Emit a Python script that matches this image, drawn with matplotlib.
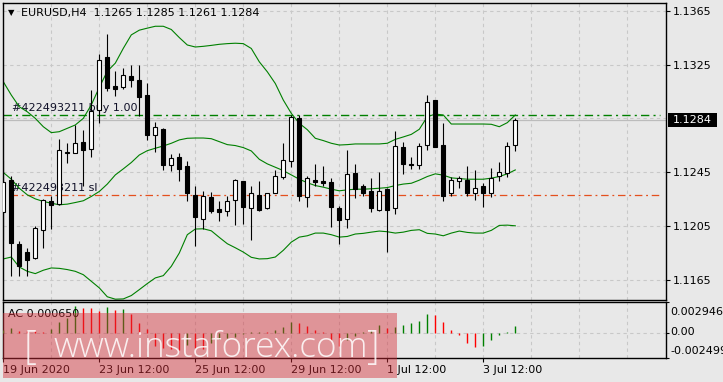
import matplotlib
matplotlib.use("Agg")
import matplotlib.pyplot as plt
import matplotlib.transforms as mtransforms
from matplotlib.patches import Rectangle
import numpy as np

# EURUSD H4 candles
opens = [1.12151, 1.12393, 1.11919, 1.11857, 1.11813, 1.12018, 1.12238, 1.12213, 1.12593, 1.12596,
         1.12672, 1.12620, 1.12912, 1.13307, 1.13090, 1.13085, 1.13164, 1.13134, 1.13023, 1.12724,
         1.12771, 1.12507, 1.12564, 1.12497, 1.12282, 1.12102, 1.12267, 1.12178, 1.12161, 1.12243,
         1.12383, 1.12183, 1.12282, 1.12183, 1.12299, 1.12413, 1.12531, 1.12852, 1.12265, 1.12393,
         1.12386, 1.12376, 1.12186, 1.12102, 1.12443, 1.12349, 1.12312, 1.12171, 1.12326, 1.12183,
         1.12638, 1.12512, 1.12502, 1.12650, 1.12983, 1.12650, 1.12294, 1.12383, 1.12391, 1.12299,
         1.12349, 1.12299, 1.12420, 1.12443, 1.12650]
highs = [1.12541, 1.12425, 1.11936, 1.11889, 1.12047, 1.12252, 1.12270, 1.12694, 1.12670, 1.12798,
         1.12764, 1.13060, 1.13331, 1.13480, 1.13200, 1.13225, 1.13250, 1.13250, 1.13109, 1.12820,
         1.12776, 1.12583, 1.12596, 1.12534, 1.12351, 1.12309, 1.12304, 1.12238, 1.12270, 1.12396,
         1.12388, 1.12349, 1.12386, 1.12299, 1.12467, 1.12665, 1.12875, 1.12875, 1.12423, 1.12512,
         1.12497, 1.12406, 1.12196, 1.12615, 1.12512, 1.12364, 1.12408, 1.12448, 1.12331, 1.12756,
         1.12675, 1.12566, 1.12665, 1.13023, 1.12988, 1.12813, 1.12413, 1.12423, 1.12497, 1.12467,
         1.12373, 1.12480, 1.12524, 1.12675, 1.12850]
lows = [1.11949, 1.11682, 1.11682, 1.11682, 1.11808, 1.11885, 1.12030, 1.12208, 1.12522, 1.12591,
        1.12344, 1.12566, 1.12818, 1.13055, 1.13018, 1.13067, 1.13085, 1.12870, 1.12689, 1.12598,
        1.12470, 1.12462, 1.12388, 1.12238, 1.11899, 1.12030, 1.12146, 1.12085, 1.12127, 1.12055,
        1.12062, 1.11949, 1.12159, 1.12176, 1.12294, 1.12403, 1.12492, 1.12238, 1.12188, 1.12349,
        1.12344, 1.12040, 1.11914, 1.12033, 1.12262, 1.12270, 1.12151, 1.12159, 1.11857, 1.12141,
        1.12435, 1.12472, 1.12477, 1.12613, 1.12635, 1.12233, 1.12270, 1.12331, 1.12277, 1.12240,
        1.12188, 1.12265, 1.12388, 1.12413, 1.12610]
closes = [1.12381, 1.11924, 1.11751, 1.11801, 1.12035, 1.12245, 1.12208, 1.12615, 1.12598, 1.12665,
          1.12615, 1.12904, 1.13287, 1.13072, 1.13067, 1.13171, 1.13134, 1.13010, 1.12727, 1.12783,
          1.12500, 1.12556, 1.12477, 1.12292, 1.12114, 1.12275, 1.12159, 1.12151, 1.12235, 1.12391,
          1.12188, 1.12294, 1.12171, 1.12294, 1.12420, 1.12539, 1.12857, 1.12270, 1.12406, 1.12381,
          1.12373, 1.12188, 1.12092, 1.12435, 1.12326, 1.12299, 1.12181, 1.12309, 1.12173, 1.12643,
          1.12509, 1.12500, 1.12643, 1.12971, 1.12640, 1.12277, 1.12391, 1.12408, 1.12292, 1.12331,
          1.12292, 1.12410, 1.12450, 1.12643, 1.12840]

# bollinger bands as drawn
bb_upper = [1.13122, 1.13023, 1.12936, 1.12899, 1.12850, 1.12788, 1.12744, 1.12751, 1.12776, 1.12801,
            1.12850, 1.12950, 1.13080, 1.13200, 1.13260, 1.13370, 1.13470, 1.13505, 1.13520, 1.13534,
            1.13534, 1.13510, 1.13450, 1.13395, 1.13380, 1.13385, 1.13392, 1.13400, 1.13405, 1.13408,
            1.13405, 1.13369, 1.13270, 1.13196, 1.13109, 1.12986, 1.12887, 1.12813, 1.12766, 1.12702,
            1.12685, 1.12665, 1.12652, 1.12655, 1.12660, 1.12660, 1.12660, 1.12660, 1.12665, 1.12694,
            1.12712, 1.12731, 1.12769, 1.12862, 1.12882, 1.12875, 1.12808, 1.12808, 1.12808, 1.12808,
            1.12808, 1.12806, 1.12788, 1.12818, 1.12875]
bb_mid = [1.12448, 1.12398, 1.12331, 1.12282, 1.12252, 1.12233, 1.12220, 1.12208, 1.12213, 1.12225,
          1.12238, 1.12270, 1.12307, 1.12362, 1.12430, 1.12475, 1.12522, 1.12578, 1.12610, 1.12628,
          1.12645, 1.12665, 1.12690, 1.12702, 1.12704, 1.12704, 1.12699, 1.12677, 1.12655, 1.12648,
          1.12633, 1.12608, 1.12546, 1.12512, 1.12487, 1.12462, 1.12430, 1.12398, 1.12372, 1.12351,
          1.12339, 1.12324, 1.12312, 1.12319, 1.12324, 1.12324, 1.12327, 1.12331, 1.12336, 1.12351,
          1.12362, 1.12368, 1.12391, 1.12418, 1.12438, 1.12428, 1.12408, 1.12403, 1.12398, 1.12398,
          1.12398, 1.12406, 1.12418, 1.12438, 1.12467]
bb_lower = [1.11806, 1.11820, 1.11746, 1.11714, 1.11697, 1.11722, 1.11739, 1.11736, 1.11727, 1.11714,
            1.11689, 1.11640, 1.11591, 1.11525, 1.11507, 1.11509, 1.11534, 1.11578, 1.11623, 1.11665,
            1.11682, 1.11751, 1.11850, 1.11986, 1.12028, 1.12030, 1.12015, 1.11966, 1.11919, 1.11889,
            1.11857, 1.11818, 1.11806, 1.11808, 1.11820, 1.11870, 1.11931, 1.11968, 1.11978, 1.11998,
            1.11998, 1.11986, 1.11968, 1.11973, 1.11991, 1.11996, 1.12005, 1.12013, 1.12008, 1.11998,
            1.12005, 1.12018, 1.12023, 1.11996, 1.11991, 1.11978, 1.11998, 1.12013, 1.12003, 1.11998,
            1.11998, 1.12018, 1.12055, 1.12057, 1.12052]

# accelerator oscillator
ac_vals = [0.00026, 0.00049, 0.00019, 0.00014, 0.00011, 0.00008, 0.00035, 0.00104, 0.00146, 0.00259,
           0.00243, 0.00237, 0.00211, 0.00253, 0.00220, 0.00233, 0.00185, 0.00091, 0.00039, -0.00130,
           -0.00146, -0.00156, -0.00170, -0.00120, -0.00150, -0.00160, -0.00100, -0.00060, -0.00050, -0.00040,
           -0.00010, 0.00005, 0.00010, 0.00008, 0.00023, 0.00052, 0.00104, 0.00091, 0.00065, 0.00023,
           0.00006, -0.00071, -0.00130, -0.00071, -0.00032, 0.00010, 0.00026, 0.00071, 0.00045, 0.00055,
           0.00071, 0.00091, 0.00110, 0.00178, 0.00168, 0.00104, 0.00023, -0.00023, -0.00104, -0.00139,
           -0.00130, -0.00071, -0.00023, 0.00003, 0.00065]

grid_prices = [1.1165, 1.1205, 1.1245, 1.1285, 1.1325, 1.1365]
price_ticks = [1.1165, 1.1205, 1.1245, 1.1325, 1.1365]
time_ticks = [0, 12, 24, 36, 48, 60]
time_labels = ["19 Jun 2020", "23 Jun 12:00", "25 Jun 12:00", "29 Jun 12:00", "1 Jul 12:00", "3 Jul 12:00"]
buy_level = 1.12877
sl_level = 1.12282
bid = 1.1284
ac_ticks = [0.002946, 0.0, -0.002499]
ac_tick_labels = ["0.002946", "0.00", "-0.002499"]

W, H = 723, 382
BG = "#e8e8e8"
GRID = "#c8c8c8"
GREEN = "#008000"
RED = "#ff0000"

fig = plt.figure(figsize=(W / 100, H / 100), dpi=100)
fig.patch.set_facecolor(BG)


def px_axes(left, top, right, bottom):
    return fig.add_axes([left / W, 1 - bottom / H, (right - left) / W, (bottom - top) / H])


ax = px_axes(2.7, 2.7, 666.3, 300.0)
ac = px_axes(2.7, 302.3, 666.3, 358.3)

x = np.arange(len(opens))
for a in (ax, ac):
    a.set_facecolor(BG)
    for s in a.spines.values():
        s.set_linewidth(1.0)
        s.set_color("black")
    a.set_xlim(-0.075, 82.875)
    for v in range(6, 83, 6):
        a.axvline(v, color=GRID, lw=0.8, ls=(0, (3, 3)), zorder=0)

for p in grid_prices:
    ax.axhline(p, color=GRID, lw=0.8, ls=(0, (3, 3)), zorder=0)
ax.set_ylim(1.11501, 1.13709)

# order lines and bid line
ax.axhline(bid, color="#bcbcbc", lw=0.9, zorder=1)
ax.hlines(buy_level, -0.075, 82.1, colors=GREEN, lw=1.0, linestyles=[(0, (6, 3, 1.5, 3))], zorder=2)
ax.hlines(sl_level, 0.8, 82.1, colors="#e4501e", lw=0.9, linestyles=[(0, (6, 3, 1.5, 3))], zorder=2)

up7 = mtransforms.offset_copy(ax.transData, fig=fig, x=0, y=7, units="dots")
ax.text(1.1, buy_level, "#422493211 buy 1.00", transform=up7, fontsize=8, color="#101028",
        va="center", ha="left", zorder=1.5)
ax.text(1.1, sl_level, "#422493211 sl", transform=up7, fontsize=8, color="#101028",
        va="center", ha="left", zorder=1.5)

# bands
ax.plot(x, bb_upper, color=GREEN, lw=0.8, zorder=2)
ax.plot(x, bb_mid, color=GREEN, lw=0.8, zorder=2)
ax.plot(x, bb_lower, color=GREEN, lw=0.8, zorder=2)

# candles
for i in x:
    o, h, l, c = opens[i], highs[i], lows[i], closes[i]
    ax.vlines(i, l, h, color="black", lw=0.8, zorder=3)
    ax.add_patch(Rectangle((i - 0.27, min(o, c)), 0.54, max(abs(c - o), 0.00002),
                           facecolor="white" if c >= o else "black", edgecolor="black",
                           lw=0.8, zorder=4))

ax.set_xticks([])
ax.yaxis.tick_right()
ax.set_yticks(price_ticks)
ax.set_yticklabels([f"{p:.4f}" for p in price_ticks])
ax.tick_params(axis="y", direction="out", length=3, width=0.8, pad=1.5, labelsize=8, colors="black")

# current price marker on the axis
blend = mtransforms.blended_transform_factory(ax.transAxes, ax.transData)
ax.add_patch(Rectangle((1.003, bid - 0.00053), 0.0738, 0.00106, transform=blend,
                       facecolor="black", edgecolor="none", clip_on=False, zorder=5))
ax.text(1.0097, bid, f"{bid:.4f}", transform=blend, color="white", fontsize=8,
        va="center", ha="left", clip_on=False, zorder=6)

header = f"EURUSD,H4  {opens[-1]:.4f} {highs[-1]:.4f} {lows[-1]:.4f} {closes[-1]:.4f}"
ax.text(0.0125, 0.966, "\u25bc", transform=ax.transAxes, fontsize=6, ha="center", va="center")
ax.text(0.0276, 0.966, header, transform=ax.transAxes, fontsize=8, ha="left", va="center")

# AC panel
ac_colors = [GREEN if (i == 0 or ac_vals[i] > ac_vals[i - 1]) else RED for i in range(len(ac_vals))]
ac.vlines(x, 0, ac_vals, colors=ac_colors, lw=1.0, zorder=3)
ac.axhline(0, color=GRID, lw=0.8, ls=(0, (3, 3)), zorder=0)
ac.set_ylim(ac_ticks[2], ac_ticks[0])
ac.yaxis.tick_right()
ac.set_yticks(ac_ticks)
ac.set_yticklabels([])
ac.tick_params(axis="y", direction="out", length=2, width=0.8)
ac_blend = mtransforms.blended_transform_factory(ac.transAxes, ac.transData)
for val, lab, dy in zip(ac_ticks, ac_tick_labels, [-9.7, 0.7, 7.6]):
    tr = mtransforms.offset_copy(ac_blend, fig=fig, x=0, y=dy, units="dots")
    ac.text(1.0066, val, lab, transform=tr, fontsize=8, va="center", ha="left", clip_on=False)
ac.text(0.008, 0.79, f"AC {ac_vals[-1]:.6f}", transform=ac.transAxes, fontsize=8,
        ha="left", va="center", zorder=4)

ac.set_xticks(time_ticks)
ac.set_xticklabels(time_labels, ha="left")
ac.tick_params(axis="x", direction="out", length=3, width=0.8, pad=2, labelsize=8)

# watermark
fig.add_artist(Rectangle((3 / W, 1 - 378 / H), 394 / W, 65 / H, transform=fig.transFigure,
                         facecolor=(0.84, 0.18, 0.22), alpha=0.45, edgecolor="none", zorder=10))
wm = dict(family="Open Sans", weight="light", color="white", alpha=0.85,
          ha="left", va="baseline", zorder=11)
fig.text(53 / W, 1 - 357 / H, "www.instaforex.com", fontsize=25.3, **wm)
fig.text(24 / W, 1 - 359 / H, "[", fontsize=29, **wm)
fig.text(367 / W, 1 - 359 / H, "]", fontsize=29, **wm)

fig.savefig("out.png", dpi=100, facecolor=BG)
